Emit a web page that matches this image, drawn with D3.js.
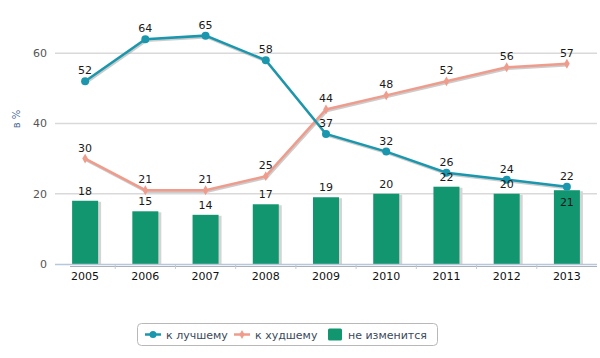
<!DOCTYPE html>
<html><head><meta charset="utf-8">
<script src="https://cdn.jsdelivr.net/npm/d3@7"></script>
<style>body{margin:0;background:#fff}svg{display:block}text{font-family:"DejaVu Sans",Verdana,sans-serif}</style>
</head><body><svg id="c" width="600" height="358"></svg>
<script>
const years = ["2005","2006","2007","2008","2009","2010","2011","2012","2013"];
const better = [52,64,65,58,37,32,26,24,22];
const worse = [30,21,21,25,44,48,52,56,57];
const same = [18,15,14,17,19,20,22,20,21];
const yTicks = [0,20,40,60];
const labels = ["к лучшему","к худшему","не изменится"];

const svg = d3.select("#c");
const x = d3.scaleBand().domain(years).range([55,597]);
const y = d3.scaleLinear().domain([0,75]).range([264,0.5]);
const cx = d => x(d)+x.bandwidth()/2;
const cBlue="#1b97ad", cPink="#ef9c8c", cGreen="#129670";

// grid
svg.append("g").selectAll("line").data(yTicks.filter(t=>t>0)).join("line")
 .attr("x1",55).attr("x2",597).attr("y1",d=>y(d)).attr("y2",d=>y(d))
 .attr("stroke","#d9d9d9").attr("stroke-width",1.5);
// y tick labels
svg.append("g").selectAll("text").data(yTicks).join("text")
 .attr("x",47).attr("y",d=>y(d)+4).attr("text-anchor","end")
 .attr("font-size",11).attr("fill","#555").text(d=>d);
// y title
svg.append("text").attr("transform","translate(20,119) rotate(-90)")
 .attr("text-anchor","middle").attr("font-size",10).attr("fill","#4a6b93").text("в %");

// bars shadow + bars
const bw = 26;
svg.append("g").selectAll("rect").data(same).join("rect")
 .attr("x",(d,i)=>cx(years[i])-bw/2+2).attr("y",d=>y(d)+1).attr("width",bw+1).attr("height",d=>264-y(d)-1)
 .attr("fill","#d4d4d4");
svg.append("g").selectAll("rect").data(same).join("rect")
 .attr("x",(d,i)=>cx(years[i])-bw/2).attr("y",d=>y(d)).attr("width",bw).attr("height",d=>264-y(d))
 .attr("fill",cGreen);

// x axis
svg.append("line").attr("x1",55).attr("x2",597).attr("y1",264.5).attr("y2",264.5).attr("stroke","#b8c8dc").attr("stroke-width",1.5);
svg.append("line").attr("x1",70).attr("x2",597).attr("y1",266.5).attr("y2",266.5).attr("stroke","#aab0bc").attr("stroke-width",1);
svg.append("g").selectAll("line").data(years.slice(1)).join("line")
 .attr("x1",d=>x(d)).attr("x2",d=>x(d)).attr("y1",265).attr("y2",269).attr("stroke","#c0cbd8");
svg.append("g").selectAll("text").data(years).join("text")
 .attr("x",d=>cx(d)).attr("y",280).attr("text-anchor","middle").attr("font-size",11).attr("fill","#111").text(d=>d);

// lines
const line = d3.line().x((d,i)=>cx(years[i])).y(d=>y(d));
function drawLine(data,color){
  svg.append("path").datum(data).attr("d",line).attr("fill","none").attr("stroke","#999").attr("stroke-opacity",0.5)
   .attr("stroke-width",2.5).attr("transform","translate(1,1.5)");
  svg.append("path").datum(data).attr("d",line).attr("fill","none").attr("stroke",color).attr("stroke-width",2.5);
}
drawLine(worse,cPink);
drawLine(better,cBlue);
svg.append("g").selectAll("path").data(worse).join("path")
 .attr("d",d3.symbol(d3.symbolDiamond,28)).attr("transform",(d,i)=>`translate(${cx(years[i])},${y(d)})`).attr("fill",cPink);
svg.append("g").selectAll("circle").data(better).join("circle")
 .attr("cx",(d,i)=>cx(years[i])).attr("cy",d=>y(d)).attr("r",4).attr("fill",cBlue);

// labels
const lab = svg.append("g").attr("font-size",11).attr("fill","#1a1a1a").attr("text-anchor","middle");
better.forEach((d,i)=>lab.append("text").attr("x",cx(years[i])).attr("y",y(d)-7).text(d));
worse.forEach((d,i)=>lab.append("text").attr("x",cx(years[i])).attr("y",y(d)-7).text(d));
same.forEach((d,i)=>{
  const inside = i===years.length-1;
  lab.append("text").attr("x",cx(years[i])).attr("y",inside? y(d)+16 : y(d)-6).text(d);
});

// legend
const lg = svg.append("g");
lg.append("rect").attr("x",137.5).attr("y",323.5).attr("width",300).attr("height",22).attr("rx",4)
 .attr("fill","#fff").attr("stroke","#b8b8b8");
lg.append("line").attr("x1",145).attr("x2",161).attr("y1",334.5).attr("y2",334.5).attr("stroke",cBlue).attr("stroke-width",2.5);
lg.append("circle").attr("cx",153).attr("cy",334.5).attr("r",3.5).attr("fill",cBlue);
lg.append("text").attr("x",166).attr("y",338.5).attr("font-size",11).attr("fill","#3a4a5a").text(labels[0]);
lg.append("line").attr("x1",234).attr("x2",250).attr("y1",334.5).attr("y2",334.5).attr("stroke",cPink).attr("stroke-width",2.5);
lg.append("path").attr("d",d3.symbol(d3.symbolDiamond,24)).attr("transform","translate(242,334.5)").attr("fill",cPink);
lg.append("text").attr("x",255).attr("y",338.5).attr("font-size",11).attr("fill","#3a4a5a").text(labels[1]);
lg.append("rect").attr("x",328).attr("y",328.5).attr("width",14).attr("height",12).attr("rx",1.5).attr("fill",cGreen);
lg.append("text").attr("x",348).attr("y",338.5).attr("font-size",11).attr("fill","#3a4a5a").text(labels[2]);
</script></body></html>
